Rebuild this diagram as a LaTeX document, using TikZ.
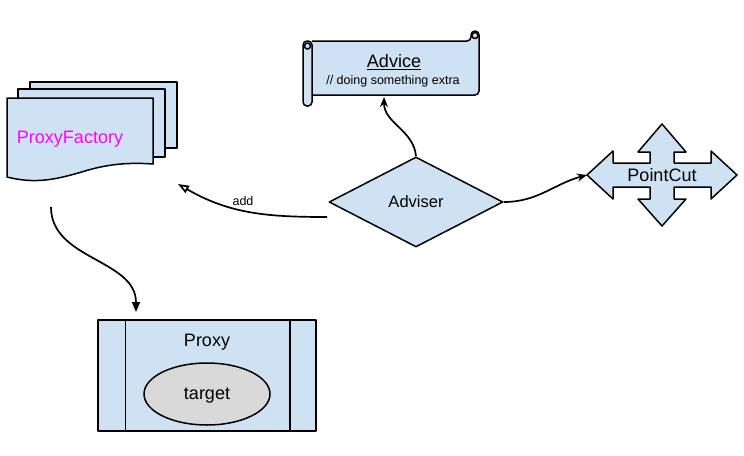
\documentclass[tikz,border=0pt]{standalone}
\usepackage{fontspec}
\setmainfont{Liberation Sans}
\usetikzlibrary{shapes.geometric,arrows.meta,positioning,calc}
\definecolor{aopblue}{HTML}{CFE2F3}
\definecolor{aopgray}{HTML}{D9D9D9}
\definecolor{aopmagenta}{HTML}{FF00FF}
\tikzset{
  aopshape/.style={draw=black, fill=aopblue, line width=1.5pt, line join=round},
  aopbig/.style={font=\fontsize{18}{20}\selectfont},
  aopmid/.style={font=\fontsize{16.5}{18}\selectfont},
  aopsmall/.style={font=\fontsize{12.5}{14}\selectfont},
  aoparrow/.style={-{Stealth[length=10pt,width=8pt]}, line width=1.7pt, draw=black},
  aoptri/.style={-{Triangle[length=10pt,width=8pt]}, line width=1.7pt, draw=black},
  aopopen/.style={-{Triangle[open,length=11pt,width=8pt]}, line width=1.7pt, draw=black},
}

\begin{document}
\begin{tikzpicture}[x=1pt, y=-1pt]
  \useasboundingbox (0,0) rectangle (744,455);
  % ProxyFactory: stack of pages
  \draw[aopshape] (30,82) rectangle (177,148);
  \draw[aopshape] (18,89) rectangle (165,157);
  \draw[aopshape] (7,98) -- (153,98) -- (153,164)
    .. controls (125,162) and (105,165) .. (85,171)
    .. controls (55,180) and (35,184) .. (7,177) -- cycle;
  \node (pf) [aopbig, text=aopmagenta] at (70,139) {ProxyFactory};

  % Advice: scroll
  \draw[aopshape, rounded corners=4pt] (312,41) -- (471,41) -- (471,31) -- (479,31) -- (479,95) -- (312,95);
  \draw[line width=1.5pt] (475,35.5) circle (3pt);
  \draw[aopshape, rounded corners=4pt] (303,41) rectangle (312,106);
  \draw[line width=1.5pt] (307.5,46) circle (3pt);
  \node (advice) [aopbig] at (394,62) {\underline{Advice}};
  \node (advnote) [aopsmall] at (393,81) {// doing something extra};

  % Adviser
  \node (adviser) [aopshape, aopmid, diamond, minimum width=174pt, minimum height=90pt, inner sep=0pt] at (416,202) {Adviser};

  % PointCut: four-way arrow
  \draw[aopshape] (662,124) -- (686,152) -- (674,152) -- (674,163) -- (711,163) -- (711,151)
    -- (737,175) -- (711,199) -- (711,187) -- (674,187) -- (674,199) -- (686,199)
    -- (662,226) -- (638,199) -- (650,199) -- (650,187) -- (613,187) -- (613,199)
    -- (587,175) -- (613,151) -- (613,163) -- (650,163) -- (650,152) -- (638,152) -- cycle;
  \node (pc) [aopbig] at (662,175) {PointCut};

  % Proxy
  \node (proxy) [aopshape, minimum width=218pt, minimum height=111pt] at (207,375.5) {};
  \draw[line width=1.5pt] ($(proxy.north west)+(28,0)$) -- ($(proxy.south west)+(28,0)$);
  \draw[line width=1.5pt] ($(proxy.north east)+(-27,0)$) -- ($(proxy.south east)+(-27,0)$);
  \node (proxyttl) [aopbig] at (207,342) {Proxy};
  \node (target) [ellipse, draw, fill=aopgray, line width=1.5pt, minimum width=126pt, minimum height=62pt, text depth=0pt, aopbig] at (207,394) {target};

  % connectors
  \coordinate (pfout) at (51,207);
  \coordinate (proxyin) at (136,312);
  \coordinate (advin) at (384,97);
  \coordinate (pcin) at (587,175);
  \coordinate (addstart) at (327,217);
  \coordinate (addend) at (178,184);
  \draw[aoptri] (pfout) to[out=-90,in=90] (proxyin);
  \draw[aoparrow] (adviser.north) to[out=95,in=-90] (advin);
  \draw[aoparrow] (adviser.east) to[out=0,in=195] (pcin);
  \draw[aopopen] (addstart) to[out=180,in=-30] (addend);
  \node (addlbl) [aopsmall] at (243,201) {add};
\end{tikzpicture}
\end{document}
